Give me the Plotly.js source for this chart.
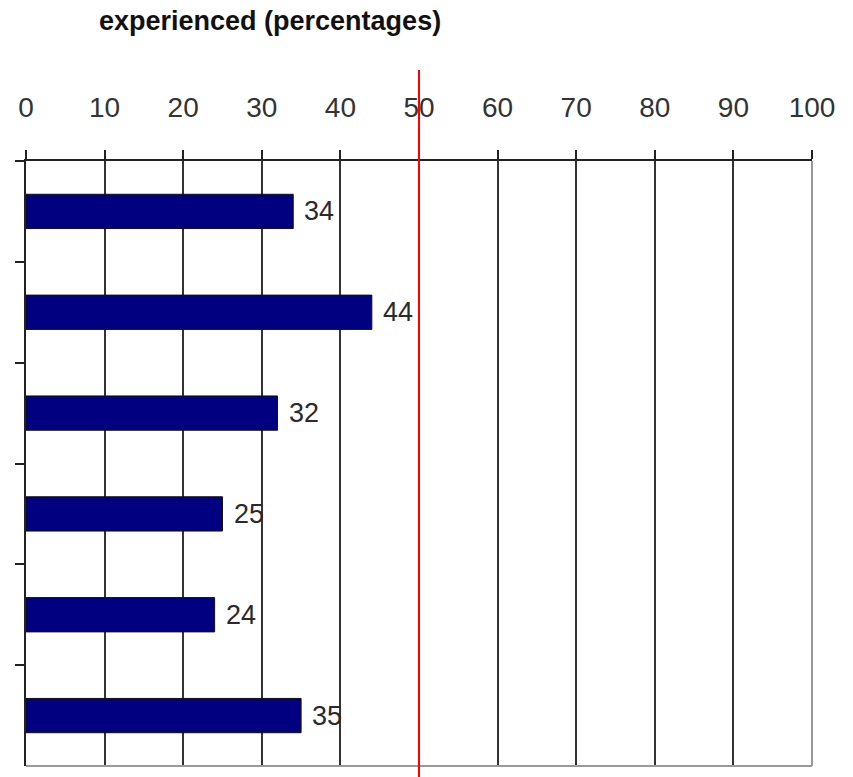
<!DOCTYPE html>
<html><head><meta charset="utf-8">
<script src="https://cdn.plot.ly/plotly-3.0.1.min.js"></script>
<style>html,body{margin:0;padding:0;background:#fff;}#chart{width:853px;height:777px;}</style>
</head><body><div id="chart"></div>
<script>
const categories = ["Item 1", "Item 2", "Item 3", "Item 4", "Item 5", "Item 6"];
const values = [34, 44, 32, 25, 24, 35];
const xTicks = [0, 10, 20, 30, 40, 50, 60, 70, 80, 90, 100];
const referenceValue = 50;
const titleText = "experienced (percentages)";

const trace = {
  type: "bar", orientation: "h",
  x: values, y: categories,
  marker: {color: "#000080", line: {color: "#111", width: 1}},
  width: 0.34,
  hoverinfo: "skip"
};

const annotations = values.map((v, i) => ({
  x: v, y: categories[i], xref: "x", yref: "y",
  text: String(v), showarrow: false, xanchor: "left", xshift: 9,
  font: {family: "Arial, Liberation Sans, sans-serif", size: 27, color: "#2a2a2a"}
}));

const layout = {
  width: 853, height: 777,
  margin: {l: 26, r: 41, t: 161, b: 11},
  paper_bgcolor: "#fff", plot_bgcolor: "#fff",
  showlegend: false,
  title: {
    text: "<b>" + titleText + "</b>",
    x: 99/853, xanchor: "left", xref: "container",
    y: 1 - 21/777, yanchor: "middle", yref: "container",
    font: {family: "Arial, Liberation Sans, sans-serif", size: 27, color: "#111"}
  },
  xaxis: {
    side: "top", range: [0, 100], tickvals: xTicks, ticktext: xTicks.map(String),
    showgrid: true, gridcolor: "#333", gridwidth: 2,
    showline: true, linecolor: "#222", linewidth: 2,
    ticks: "outside", ticklen: 9, tickwidth: 2, tickcolor: "#222",
    ticklabelstandoff: 22,
    tickfont: {family: "Arial, Liberation Sans, sans-serif", size: 28, color: "#333"},
    zeroline: false, fixedrange: true
  },
  yaxis: {
    type: "category", categoryorder: "array", categoryarray: categories,
    autorange: "reversed",
    showticklabels: false, showgrid: false, zeroline: false,
    showline: true, linecolor: "#222", linewidth: 2,
    ticks: "outside", tickson: "boundaries", ticklen: 9, tickwidth: 2, tickcolor: "#222",
    fixedrange: true
  },
  annotations: annotations,
  shapes: [
    {type: "line", xref: "paper", yref: "paper", x0: 1, x1: 1, y0: 0, y1: 1,
     line: {color: "#999", width: 2}, layer: "above"},
    {type: "line", xref: "paper", yref: "paper", x0: 0, x1: 1, y0: 0, y1: 0,
     line: {color: "#999", width: 2}, layer: "above"},
    {type: "line", xref: "x", yref: "paper", x0: referenceValue, x1: referenceValue,
     y0: -0.02, y1: (766-70)/605, line: {color: "#ff0000", width: 2}, layer: "above"}
  ]
};

Plotly.newPlot("chart", [trace], layout, {displayModeBar: false, staticPlot: true});
</script></body></html>
